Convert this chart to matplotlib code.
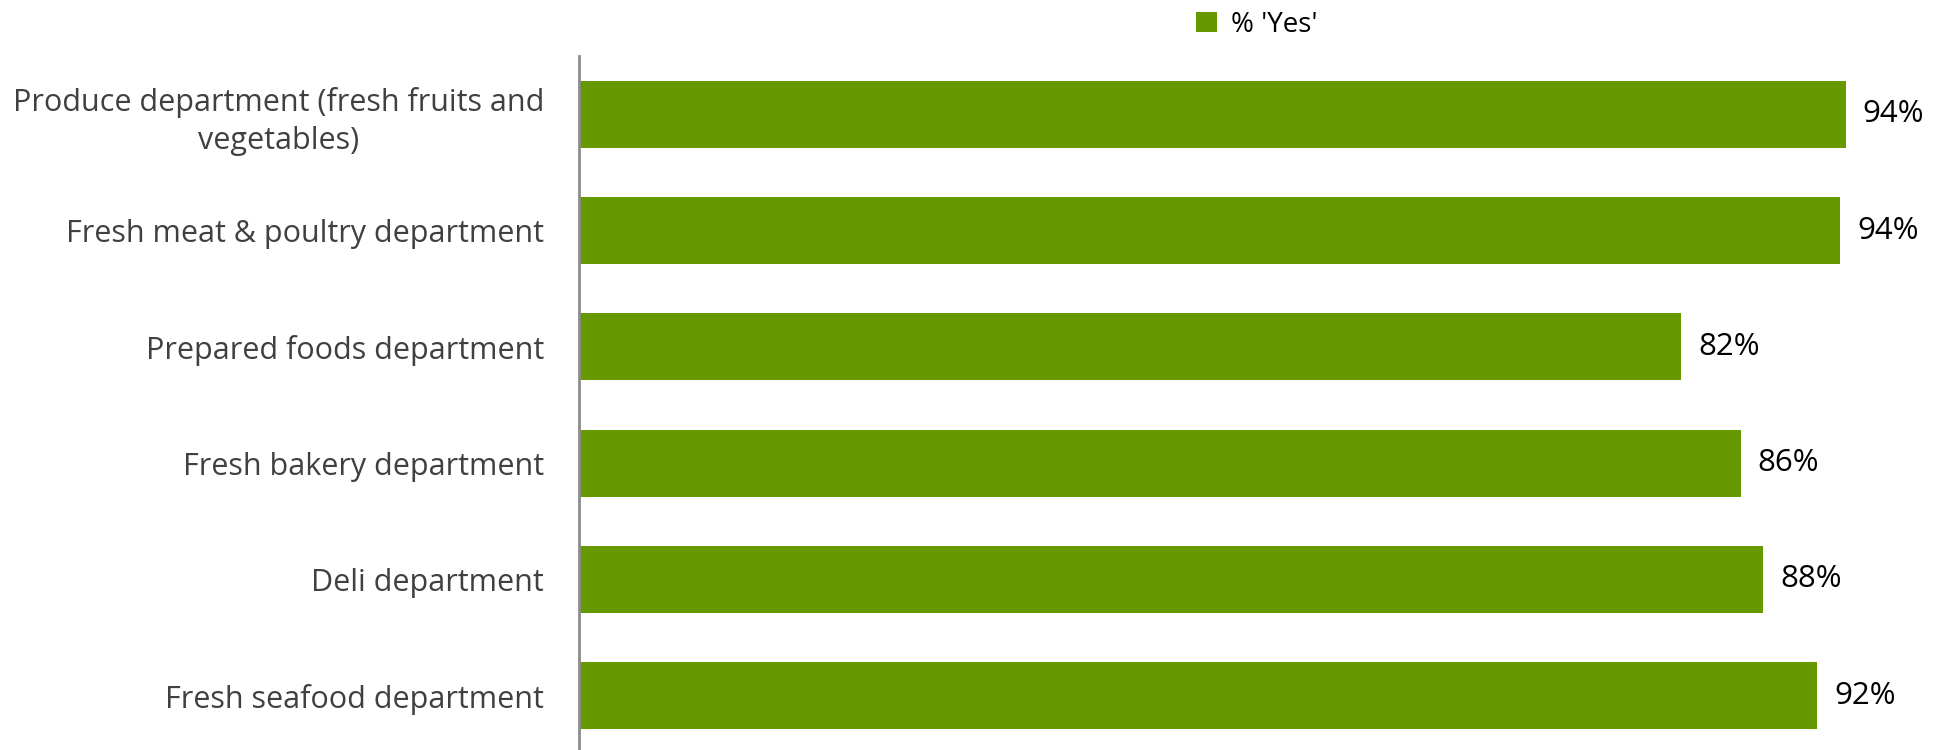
import matplotlib
matplotlib.use("Agg")
import matplotlib.pyplot as plt
from matplotlib.patches import Patch

categories = [
    "Produce department (fresh fruits and\nvegetables)",
    "Fresh meat & poultry department",
    "Prepared foods department",
    "Fresh bakery department",
    "Deli department",
    "Fresh seafood department",
]
yes_pct = [94.1, 93.7, 81.9, 86.3, 88.0, 92.0]
series_name = "% 'Yes'"

BAR_COLOR = "#669900"
LABEL_COLOR = "#404040"

plt.rcParams["font.family"] = ["Open Sans", "DejaVu Sans"]

fig = plt.figure(figsize=(19.48, 7.5), dpi=100)
ax = fig.add_axes([0.2972, -0.005, 0.691, 0.930])

ypos = list(range(len(categories)))
bars = ax.barh(ypos, yes_pct, height=0.576, color=BAR_COLOR)

ax.set_xlim(0, 100)
ax.set_ylim(len(categories) - 0.5, -0.5)

for rect, v in zip(bars, yes_pct):
    ax.annotate(f"{v:.0f}%", xy=(rect.get_width(), rect.get_y() + rect.get_height() / 2),
                xytext=(12, 0), textcoords="offset points",
                ha="left", va="center", fontsize=22.5, color="black")

ax.set_yticks(ypos)
ax.set_yticklabels(categories, fontsize=22, color=LABEL_COLOR, multialignment="center",
                   linespacing=1.35)
ax.tick_params(axis="y", length=0, pad=25)
ax.set_xticks([])

for side in ("top", "right", "bottom"):
    ax.spines[side].set_visible(False)
ax.spines["left"].set_color("#8c8c8c")
ax.spines["left"].set_linewidth(2)

fig.legend(handles=[Patch(facecolor=BAR_COLOR, edgecolor="none", label=series_name)],
           loc="center", bbox_to_anchor=(0.645, 0.967), frameon=False,
           fontsize=20, handlelength=0.75, handleheight=0.75, handletextpad=0.5)

fig.savefig("out.png", dpi=100, facecolor="white")
